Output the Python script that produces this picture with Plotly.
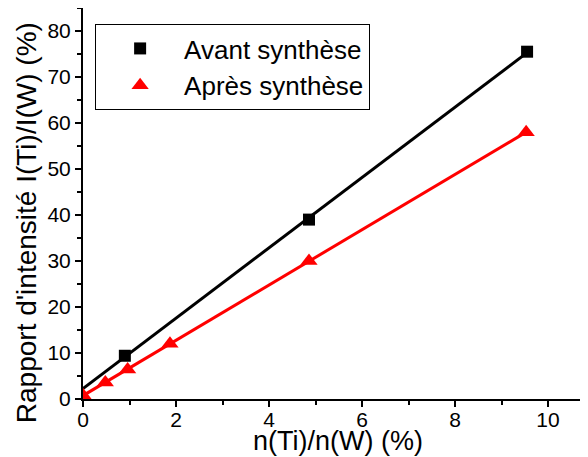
import numpy as np
import plotly.graph_objects as go

# données
x_avant = [0.90, 4.86, 9.55]
y_avant = [9.4, 39.0, 75.5]
x_apres = [0.0, 0.48, 0.96, 1.87, 4.86, 9.53]
y_apres = [0.8, 3.6, 6.4, 12.0, 30.0, 58.0]
noms = ["Avant synthèse", "Après synthèse"]
couleurs = ["black", "red"]
symboles = ["square", "triangle-up"]

police = "Liberation Sans, Arial, sans-serif"

fig = go.Figure()
for xs, ys, nom, c, s, taille in [(x_avant, y_avant, noms[0], couleurs[0], symboles[0], 12),
                                  (x_apres, y_apres, noms[1], couleurs[1], symboles[1], 15)]:
    # ajustement linéaire
    a, b = np.polyfit(xs, ys, 1)
    xf = np.array([0, max(xs)])
    fig.add_trace(go.Scatter(x=xf, y=a * xf + b, mode="lines",
                             line=dict(color=c, width=3), showlegend=False))
    fig.add_trace(go.Scatter(x=xs, y=ys, mode="markers", name=nom,
                             marker=dict(color=c, symbol=s, size=taille)))

axe = dict(showline=True, linecolor="black", linewidth=2, ticks="outside",
           tickwidth=2, ticklen=6, tickcolor="black", showgrid=False, zeroline=False,
           automargin=False,
           tickfont=dict(family=police, size=21, color="black"),
           minor=dict(ticks="outside", ticklen=4, tickwidth=2, tickcolor="black"))

fig.update_xaxes(range=[0, 10.86], dtick=2, minor_dtick=1, ticklabelstandoff=-5, **axe)
fig.update_yaxes(range=[0, 85], dtick=10, minor_dtick=5, **axe)

# la page a une marge de 8 px : figure 580x449
fig.update_layout(
    width=580, height=449,
    margin=dict(l=75, r=0, t=0, b=58),
    plot_bgcolor="white", paper_bgcolor="white",
    font=dict(family=police, color="black"),
    legend=dict(x=0.024, y=0.959, xanchor="left", yanchor="top",
                bordercolor="black", borderwidth=1, bgcolor="white",
                font=dict(family=police, size=26, color="black"),
                itemwidth=78, tracegroupgap=0),
    annotations=[
        dict(text="n(Ti)/n(W) (%)", xref="paper", yref="paper", x=0.505, y=-0.107,
             xanchor="center", yanchor="middle", showarrow=False,
             font=dict(family=police, size=27, color="black")),
        dict(text="Rapport d'intensité I(Ti)/I(W) (%)", xref="paper", yref="paper",
             x=-0.113, y=0.452, xanchor="center", yanchor="middle", textangle=-90,
             showarrow=False, font=dict(family=police, size=28, color="black")),
    ],
)

fig.write_html("out.html")
